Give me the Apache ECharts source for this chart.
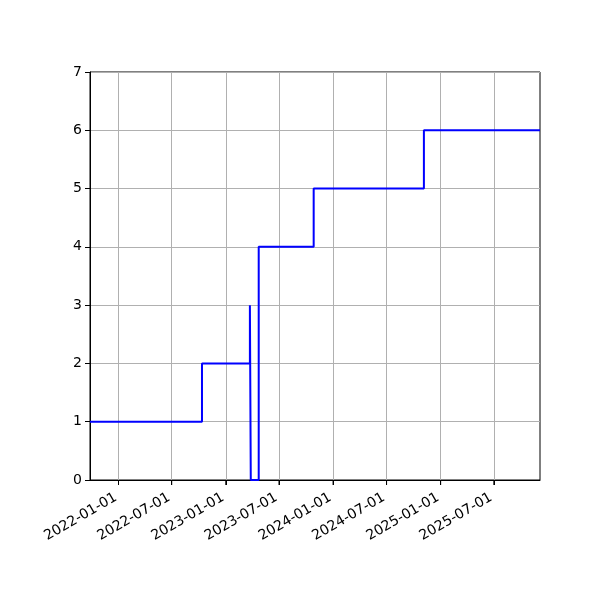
<!DOCTYPE html>
<html><head><meta charset="utf-8">
<script src="https://cdn.jsdelivr.net/npm/echarts@6/dist/echarts.min.js"></script>
<style>html,body{margin:0;padding:0;background:#fff}#c{width:600px;height:600px}</style>
</head><body><div id="c"></div>
<script>
const stepDates = ['2021-09-26','2022-10-12','2023-03-24','2023-03-27','2023-04-23','2023-10-27','2024-11-05','2025-12-05'];
const stepValues = [1,2,3,0,4,5,6,6];
const tickDates = ['2022-01-01','2022-07-01','2023-01-01','2023-07-01','2024-01-01','2024-07-01','2025-01-01','2025-07-01'];
const yTicks = [0,1,2,3,4,5,6,7];

function ts(s){const p=s.split('-').map(Number);return Date.UTC(p[0],p[1]-1,p[2]);}
function fmt(v){const d=new Date(v);const m=d.getUTCMonth()+1, dd=d.getUTCDate();
  return d.getUTCFullYear()+'-'+(m<10?'0':'')+m+'-'+(dd<10?'0':'')+dd;}

const data = stepDates.map((d,i)=>[ts(d), stepValues[i]]);
const tickVals = tickDates.map(ts);
const font = {fontFamily:'DejaVu Sans', fontSize:14, color:'#000'};

const chart = echarts.init(document.getElementById('c'));
chart.setOption({
  animation:false,
  grid:{left:90,right:60,top:72,bottom:120,show:true,borderColor:'#000',borderWidth:1,backgroundColor:'transparent'},
  xAxis:{type:'value',min:ts(stepDates[0]),max:ts(stepDates[stepDates.length-1]),
    axisLine:{show:true,lineStyle:{color:'#000',width:1}},
    axisTick:{show:true,inside:false,length:5,interval:0,lineStyle:{color:'#000',width:1},customValues:tickVals},
    axisLabel:Object.assign({rotate:30,margin:15,interval:0,padding:[0,3,0,0],customValues:tickVals,formatter:(v)=>fmt(v),hideOverlap:false},font),
    splitLine:{show:true,lineStyle:{color:'#b0b0b0',width:1}}
  },
  yAxis:{type:'value',min:yTicks[0],max:yTicks[yTicks.length-1],interval:1,
    axisLine:{show:true,lineStyle:{color:'#000',width:1}},
    axisTick:{show:true,length:5,lineStyle:{color:'#000'}},
    axisLabel:Object.assign({margin:8},font),
    splitLine:{show:true,lineStyle:{color:'#b0b0b0',width:1}}
  },
  series:[
    {type:'line',step:'end',data:data,symbol:'none',z:3,
     lineStyle:{color:'#0000ff',width:2},itemStyle:{color:'#0000ff'}},
    {type:'custom',clip:false,silent:true,data:tickVals.map(t=>[t,0]),z:4,
     renderItem:function(params,api){const p=api.coord([api.value(0),api.value(1)]);
       return {type:'line',shape:{x1:p[0],y1:p[1],x2:p[0],y2:p[1]+5},style:{stroke:'#000',lineWidth:1}};}}
  ]
});
</script></body></html>
